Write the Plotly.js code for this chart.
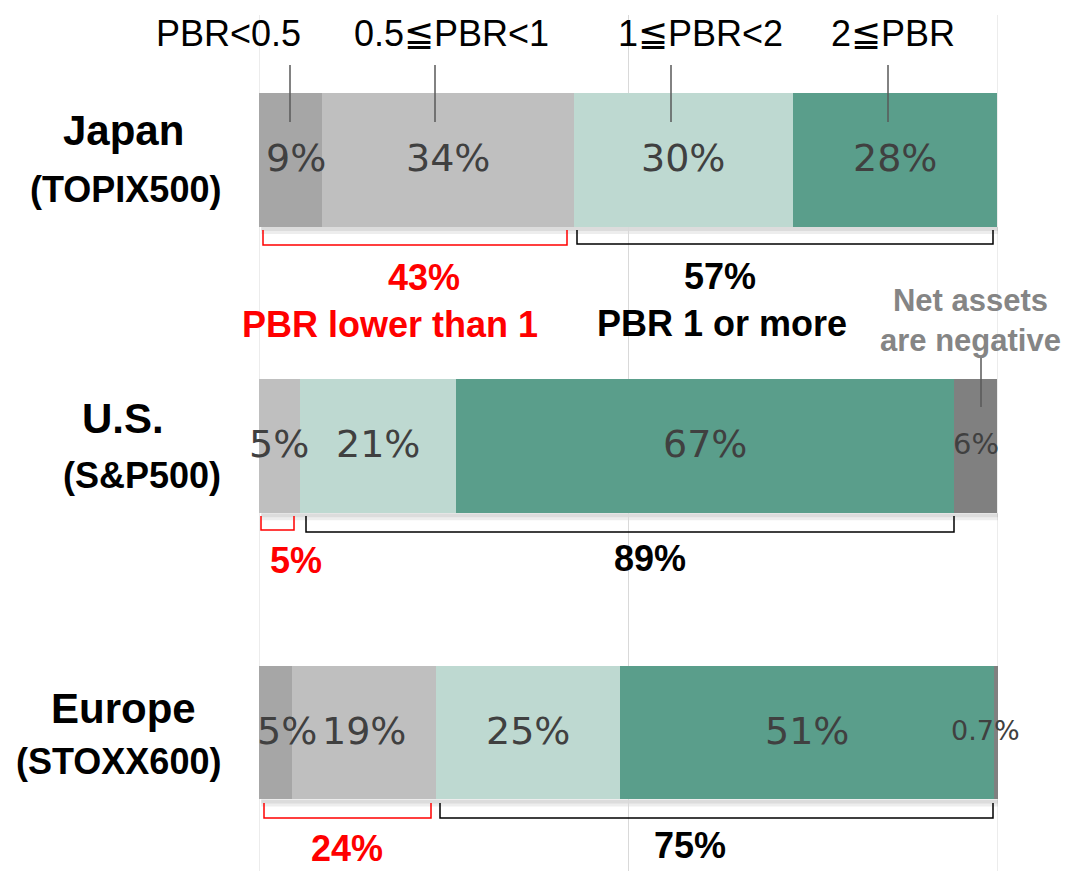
<!DOCTYPE html>
<html>
<head>
<meta charset="utf-8">
<script src="https://cdn.plot.ly/plotly-3.0.1.min.js"></script>
<style>
  body { margin: 0; background: #fff; }
  #chart { width: 1067px; height: 871px; }
</style>
</head>
<body>
<div id="chart"></div>
<script>
// regions, top to bottom
const regions = ['Japan', 'U.S.', 'Europe'];
const indexNames = ['(TOPIX500)', '(S&P500)', '(STOXX600)'];

// share of companies by PBR band (%)
const pbrUnder05 = [8.5, 0, 4.5];
const pbr05to1 = [34.1, 5.5, 19.5];
const pbr1to2 = [29.6, 21.2, 24.9];
const pbrOver2 = [27.7, 67.4, 50.6];
const negative = [0, 5.8, 0.5];

// printed labels
const labUnder05 = ['9%', '', '5%'];
const lab05to1 = ['34%', '5%', '19%'];
const lab1to2 = ['30%', '21%', '25%'];
const labOver2 = ['28%', '67%', '51%'];
const labNegative = ['', '6%', '0.7%'];

const lowerThan1 = ['43%', '5%', '24%'];
const oneOrMore = ['57%', '89%', '75%'];

const bandNames = ['PBR<0.5', '0.5≦PBR<1', '1≦PBR<2', '2≦PBR'];

const series = [pbrUnder05, pbr05to1, pbr1to2, pbrOver2, negative];
const labels = [labUnder05, lab05to1, lab1to2, labOver2, labNegative];
const colors = ['#a6a6a6', '#bfbfbf', '#bed9d1', '#5a9e8b', '#808080'];

const barWidth = 0.468;
const yRange = [2.4838, -0.5066];

// pixel -> paper helpers for the decorations (plot area 259..998 x 15..871)
const PX = px => (px - 259) / 739;
const PY = py => (871 - py) / 856;

const traces = series.map((vals, k) => ({
  type: 'bar',
  orientation: 'h',
  y: regions,
  x: vals,
  width: barWidth,
  marker: { color: colors[k], line: { width: 0 } },
  hoverinfo: 'none',
  showlegend: false
}));

const annotations = [];
const shapes = [];
const sans = 'Liberation Sans, Arial, sans-serif';
const note = (px, py, text, size, color, extra) => Object.assign({
  x: PX(px), y: PY(py), xref: 'paper', yref: 'paper', xanchor: 'center', yanchor: 'middle',
  text: text, showarrow: false,
  font: { family: sans, size: size, color: color }
}, extra || {});

// outer gridlines at 0% and 100%
[0, 100].forEach(v => shapes.push({
  type: 'line', xref: 'x', yref: 'paper', layer: 'below', x0: v, x1: v, y0: 0, y1: 1,
  line: { color: '#d9d9d9', width: 1 }
}));

// value labels inside the bars
const xShift = [[6, 0, 0, 0, 0], [2, 0, 0, 0, 0], [11, 0, 0, 0, -11]];
regions.forEach((r, i) => {
  let start = 0;
  series.forEach((vals, k) => {
    const v = vals[i];
    const t = labels[k][i];
    if (t) {
      const small = k === 4;
      annotations.push({
        x: start + v / 2, y: i, xref: 'x', yref: 'y', xanchor: 'center', yanchor: 'middle',
        text: t, showarrow: false, xshift: xShift[i][k], yshift: 2,
        font: { family: 'DejaVu Sans, sans-serif', size: small ? (t.length > 2 ? 27 : 29) : 38, color: '#404040' }
      });
    }
    start += v;
  });
  // shadow under bar
  const bottom = i + barWidth / 2;
  [7, 4].forEach(h => {
    shapes.push({
      type: 'rect', xref: 'x', yref: 'y', layer: 'below',
      x0: 0.3, x1: 100, y0: bottom, y1: bottom + h / 286.25,
      fillcolor: 'rgba(0,0,0,0.07)', line: { width: 0 }
    });
  });
});

// region labels
const mainY = [130, 418, 708];
const subY = [189, 475, 761];
regions.forEach((r, i) => {
  annotations.push(note(123, mainY[i], '<b>' + r + '</b>', 42, '#000'));
  annotations.push(note(223, subY[i], '<b>' + indexNames[i] + '</b>', 36, '#000', { xanchor: 'right' }));
});

// band headers with leader lines
const headerX = [228, 451, 700, 893];
const leaderX = [290, 435, 671, 888];
bandNames.forEach((b, k) => {
  annotations.push(note(headerX[k], 34, b, 36, '#000'));
  shapes.push({
    type: 'line', xref: 'paper', yref: 'paper', x0: PX(leaderX[k]), x1: PX(leaderX[k]),
    y0: PY(65), y1: PY(122), line: { color: '#595959', width: 1.5 }
  });
});

// net assets note
annotations.push(note(970, 320, '<b>Net assets<br>are negative</b>', 31, '#858585'));
shapes.push({
  type: 'line', xref: 'paper', yref: 'paper', x0: PX(981), x1: PX(981), y0: PY(358), y1: PY(407),
  line: { color: '#595959', width: 1.5 }
});

// brackets below bars: [x0, x1, top, bottom]
const redBr = [[263, 567, 230, 245], [261, 294, 516, 530], [264, 431, 803, 818]];
const blackBr = [[577, 993, 230, 244], [306, 954, 516, 532], [440, 993, 803, 818]];
const bracket = (b, color) => ({
  type: 'path', xref: 'paper', yref: 'paper',
  path: `M ${PX(b[0])},${PY(b[2])} L ${PX(b[0])},${PY(b[3])} L ${PX(b[1])},${PY(b[3])} L ${PX(b[1])},${PY(b[2])}`,
  line: { color: color, width: 1.5 }
});
redBr.forEach(b => shapes.push(bracket(b, '#ff0000')));
blackBr.forEach(b => shapes.push(bracket(b, '#000000')));

const redLab = [[424, 277], [296, 560], [347, 848]];
const blackLab = [[720, 276], [650, 558], [690, 845]];
lowerThan1.forEach((t, i) => {
  annotations.push(note(redLab[i][0], redLab[i][1], '<b>' + t + '</b>', 36, '#ff0000'));
  annotations.push(note(blackLab[i][0], blackLab[i][1], '<b>' + oneOrMore[i] + '</b>', 36, '#000'));
});
annotations.push(note(390, 324, '<b>PBR lower than 1</b>', 36, '#ff0000'));
annotations.push(note(722, 323, '<b>PBR 1 or more</b>', 36, '#000'));

const layout = {
  width: 1067,
  height: 871,
  margin: { l: 259, r: 69, t: 15, b: 0 },
  paper_bgcolor: '#fff',
  plot_bgcolor: '#fff',
  barmode: 'stack',
  bargap: 0,
  xaxis: {
    range: [0, 100],
    dtick: 50,
    showgrid: true,
    gridcolor: '#d9d9d9',
    gridwidth: 1,
    zeroline: false,
    showline: false,
    showticklabels: false,
    ticks: '',
    fixedrange: true
  },
  yaxis: {
    type: 'category',
    range: yRange,
    showgrid: false,
    zeroline: false,
    showticklabels: false,
    ticks: '',
    fixedrange: true
  },
  annotations: annotations,
  shapes: shapes
};

Plotly.newPlot('chart', traces, layout, { staticPlot: true });
</script>
</body>
</html>
